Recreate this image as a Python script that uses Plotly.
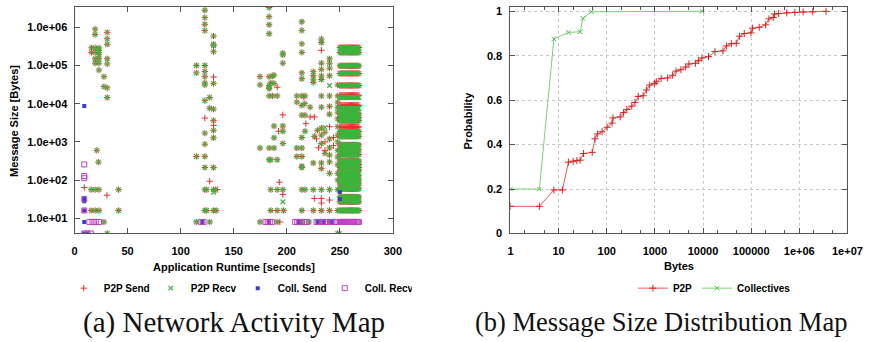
import plotly.graph_objects as go

W, H = 883, 342

# ---------------- Left chart data: (time [s], size [bytes]) ----------------
# points where both a P2P send and a P2P recv are recorded
p2p_both_t = [19.4, 19.4, 30.8, 30.8, 30.8, 16, 19.4, 23, 16, 19.4, 23, 23, 23, 19.4, 23, 19.4, 23, 30.8, 30.8,
              23, 27.7, 27.7, 30.8, 30.8, 21, 22.5, 15.7, 19.4, 23, 41.5, 15.7, 19.4, 23, 41.5, 27.7, 30.8,
              122.8, 122.8, 122.8, 122.8, 131, 131, 131, 131, 114.8, 122.8, 114.8, 122.8, 122.8, 122.8, 122.8, 131,
              122.8, 127.4, 127.4, 131, 131, 131, 122.8, 131, 122.8, 114.8, 122.8, 122.8, 131,
              122.8, 124.5, 131, 133, 122.8, 124.5, 131, 133.5, 114.8, 127.4,
              183.4, 183.4, 183.4, 183.4, 196.3, 196.3, 196.3, 174.8, 183.4, 186.5, 188, 174.8, 183.4, 183.4, 185, 188,
              183.4, 183.4, 186.5, 191, 188, 196.3, 196.3, 188, 196.3, 174.8, 183.4, 188, 183.4, 185, 191,
              184.9, 191, 196.3, 184.9, 191, 197, 174.8, 191,
              214.2, 214.2, 214.2, 214.2, 214.2, 214.2, 232.6, 232.6, 232.6, 232.6, 232.6, 232.6,
              225, 225, 225, 225, 240.3, 240.3, 240.3, 240.3, 248,
              209.5, 214.2, 217.2, 209.5, 214.2, 217, 214.2, 217.2, 222, 232.6, 232.6, 240.3, 240.3, 240.3,
              248, 248, 248, 248, 248, 248, 248, 248, 248, 248, 248, 248, 248,
              217.2, 214.2, 209.5, 214.2, 209.5, 214.2, 214.2,
              226, 229, 232.6, 232.6, 232.6, 236, 240.3, 240.3, 240.3, 236,
              214.2, 225, 232.6, 232.6, 240.3, 240.3,
              214.2, 217.2, 225, 232.6, 240.3, 248, 214.2, 225, 232.6, 240.3, 248,
              214.2, 221, 232, 240, 248, 249.5]
p2p_both_s = [9.0e5, 6.5e5, 7.4e5, 5.0e5, 3.6e5, 2.9e5, 2.9e5, 2.9e5, 2.2e5, 2.2e5, 2.2e5, 2.5e5, 1.9e5, 1.5e5, 1.5e5, 1.15e5, 1.15e5, 1.5e5, 1.1e5,
              7.6e4, 5.1e4, 2.8e4, 2.6e4, 1.45e4, 600, 295, 56, 56, 56, 56, 16, 16, 16, 16, 8, 4,
              2.8e6, 1.8e6, 1.2e6, 8.2e5, 5.9e5, 3.6e5, 3.3e5, 2.3e5, 1.0e5, 1.0e5, 6.4e4, 7.0e4, 5.1e4, 3.5e4, 3.1e4, 3.4e4,
              1.2e4, 1.45e4, 7.6e3, 7.2e3, 3.6e3, 2.0e3, 1.7e3, 1.28e3, 870, 415, 415, 213, 213,
              56, 56, 56, 56, 16, 16, 16, 16, 8, 8,
              3.3e6, 1.9e6, 1.17e6, 6.8e5, 2.1e5, 1.9e5, 1.15e5, 5.1e4, 5.1e4, 5.3e4, 5.6e4, 3.1e4, 2.5e4, 3.0e4, 3.5e4, 3.4e4,
              2.7e4, 1.6e4, 1.6e4, 1.6e4, 2.6e3, 2.6e3, 1.9e3, 1.28e3, 910, 690, 690, 690, 340, 340, 340,
              56, 56, 56, 16, 16, 16, 8, 8,
              1.4e6, 8.3e5, 3.7e5, 2.2e5, 6.4e4, 4.5e4, 4.9e5, 4.0e5, 1.15e5, 7.9e4, 5.3e4, 4.3e4,
              6.9e4, 5.5e4, 4.4e4, 3.6e4, 1.5e5, 1.15e5, 8.5e4, 5.4e4, 3.1e4,
              1.6e4, 1.6e4, 1.6e4, 1.1e4, 9.0e3, 1.0e4, 5.0e3, 5.0e3, 8.1e3, 8.1e3, 1.6e4, 1.6e4, 8.5e3, 5.3e3,
              1.6e4, 1.1e4, 8.0e3, 6.0e3, 4.0e3, 2.5e3, 1.5e3, 1.0e3, 600, 400, 250, 150, 100,
              1.9e3, 1.3e3, 690, 690, 415, 415, 213,
              1.4e3, 2.0e3, 2.3e3, 900, 1.5e3, 1.8e3, 1.2e3, 700, 450, 500,
              230, 280, 280, 200, 300, 150,
              56, 56, 56, 56, 56, 56, 16, 16, 16, 16, 16,
              8, 8, 8, 8, 4, 4]
# send-only points
p2p_send_t = [9.2, 30.5, 131, 122.8, 131, 127.4, 134.5, 191, 196.3, 192.3, 193, 196.3, 193.5,
              232.6, 216, 222, 226, 218, 228, 230, 236, 244, 240.3, 226, 232.6, 232.6, 240.3, 244, 236]
p2p_send_s = [64, 40, 5.0e4, 4.2e3, 2.7e3, 93, 56, 2.7e4, 5.1e3, 1.9e3, 88, 42, 8,
              2.5e5, 1.5e4, 4.5e3, 4.5e3, 3.0e3, 1.2e3, 700, 600, 800, 2.5e3, 33, 33, 25, 30, 1.3e3, 1.0e3]
# recv-only points
p2p_recv_t = [131, 196.3, 240.3, 236]
p2p_recv_s = [48, 27, 3.0e4, 2.4e3]

# dense activity block at the end of the run
block_t = [250, 251, 252, 253, 254, 255, 256, 257, 258, 259, 260, 261, 262, 263, 264, 265, 266, 267, 268]
block_both_s = [2.95e5, 2.2e5, 9.8e4, 6.2e4, 3.0e4, 5.4e3, 4.4e3, 3.6e3, 1.85e3, 1.4e3, 830, 620, 465,
                315, 256, 212, 175, 129, 100, 79, 59, 36, 27, 16]
block_send_s = [1.66e4, 9.1e3, 2.45e3]
block_recv_s = [1.45e4, 7.5e3]

# collectives
coll_send_t = [9.2, 9.2, 9.2, 9.2, 9.2, 9.2, 12.3, 120.5, 183, 211, 229, 235, 243, 250, 250, 250, 252]
coll_send_s = [8.7e3, 32, 28, 16, 8, 4, 4, 8, 8, 8, 8, 8, 8, 49, 32, 8, 8]
coll_recv_t = [9.2, 9.2, 9.2, 9.2, 12.3, 15.4, 14, 17, 20, 23, 9.2, 9.2, 119.5, 121.5, 180, 182, 184, 186,
               208, 210, 212, 216, 219, 228, 230, 234, 236, 238, 242, 244, 246]
coll_recv_s = [256, 128, 112, 4, 4, 4, 8, 8, 8, 8, 16, 32, 8, 8, 8, 8, 8, 8,
               8, 8, 8, 8, 8, 8, 8, 8, 8, 8, 8, 8, 8]

# ---------------- Right chart data: CDF ----------------
p2p_cdf_x = [1, 4, 8, 12, 16, 20, 24, 28, 33, 50, 57, 64, 80, 102, 129, 135, 191, 224, 261, 331, 386, 451, 570, 668,
             780, 980, 1070, 1350, 1840, 2340, 2750, 3470, 4370, 5100, 6950, 8130, 9500, 13000, 17700, 26000,
             30700, 38800, 49000, 57400, 72000, 99000, 107000, 147000, 200000, 234000, 288000, 305000, 373000,
             550000, 810000, 1.2e6, 1.9e6, 3.6e6]
p2p_cdf_y = [0.122, 0.122, 0.196, 0.196, 0.321, 0.325, 0.328, 0.33, 0.36, 0.365, 0.426, 0.448, 0.458, 0.478, 0.497,
             0.52, 0.525, 0.544, 0.558, 0.573, 0.59, 0.617, 0.62, 0.646, 0.668, 0.675, 0.683, 0.698, 0.7, 0.712,
             0.731, 0.737, 0.749, 0.763, 0.766, 0.778, 0.79, 0.796, 0.819, 0.822, 0.844, 0.854, 0.856, 0.888,
             0.9, 0.903, 0.924, 0.928, 0.939, 0.966, 0.972, 0.988, 0.99, 0.993, 0.995, 0.997, 0.998, 1.0]
coll_cdf_x = [1, 4, 8, 16, 28, 32, 48, 9500]
coll_cdf_y = [0.2, 0.2, 0.876, 0.905, 0.908, 0.968, 0.998, 1.0]

# tick labels
left_y_tickvals = [10, 100, 1000, 10000, 100000, 1000000]
left_y_ticktext = ["1.0e+01", "1.0e+02", "1.0e+03", "1.0e+04", "1.0e+05", "1.0e+06"]
left_x_tickvals = [0, 50, 100, 150, 200, 250, 300]
right_x_tickvals = [1, 10, 100, 1000, 10000, 100000, 1000000, 10000000]
right_x_ticktext = ["1", "10", "100", "1000", "10000", "100000", "1e+06", "1e+07"]
right_y_tickvals = [0, 0.2, 0.4, 0.6, 0.8, 1]
right_y_ticktext = ["0", "0.2", "0.4", "0.6", "0.8", "1"]

# ---------------- assemble series ----------------
send_t = p2p_both_t + p2p_send_t
send_s = p2p_both_s + p2p_send_s
recv_t = p2p_both_t + p2p_recv_t
recv_s = p2p_both_s + p2p_recv_s
for s in block_both_s:
    send_t += block_t
    send_s += [s] * len(block_t)
    recv_t += block_t
    recv_s += [s] * len(block_t)
for s in block_send_s:
    send_t += block_t
    send_s += [s] * len(block_t)
for s in block_recv_s:
    recv_t += block_t
    recv_s += [s] * len(block_t)
coll_recv_t2 = coll_recv_t + block_t
coll_recv_s2 = coll_recv_s + [8] * len(block_t)

RED = "#ee2c2c"
GREEN = "#3cb43c"
BLUE = "#3a3ad6"
PURPLE = "#c040c0"
FONT = "Liberation Sans"

fig = go.Figure()
fig.add_trace(go.Scatter(x=send_t, y=send_s, mode="markers", name="P2P Send",
                         marker=dict(symbol="cross-thin", size=4.5, line=dict(color=RED, width=1), color=RED),
                         xaxis="x", yaxis="y", legend="legend"))
fig.add_trace(go.Scatter(x=recv_t, y=recv_s, mode="markers", name="P2P Recv",
                         marker=dict(symbol="x-thin", size=4.5, line=dict(color=GREEN, width=1.2), color=GREEN),
                         xaxis="x", yaxis="y", legend="legend"))
fig.add_trace(go.Scatter(x=coll_send_t, y=coll_send_s, mode="markers", name="Coll. Send",
                         marker=dict(symbol="square", size=4, color=BLUE, line=dict(width=0)),
                         xaxis="x", yaxis="y", legend="legend"))
fig.add_trace(go.Scatter(x=coll_recv_t2, y=coll_recv_s2, mode="markers", name="Coll. Recv",
                         marker=dict(symbol="square-open", size=5, color=PURPLE, line=dict(color=PURPLE, width=1)),
                         xaxis="x", yaxis="y", legend="legend"))

fig.add_trace(go.Scatter(x=p2p_cdf_x, y=p2p_cdf_y, mode="lines+markers", name="P2P",
                         line=dict(color="#f05858", width=1),
                         marker=dict(symbol="cross-thin", size=5, line=dict(color="#e02020", width=1)),
                         xaxis="x2", yaxis="y2", legend="legend2"))
fig.add_trace(go.Scatter(x=coll_cdf_x, y=coll_cdf_y, mode="lines+markers", name="Collectives",
                         line=dict(color="#78d478", width=1),
                         marker=dict(symbol="x-thin", size=4.5, line=dict(color="#50c050", width=1)),
                         xaxis="x2", yaxis="y2", legend="legend2"))


def px(x):
    return x / W


def py(y):
    return 1 - y / H


tickfont = dict(family=FONT, size=11, color="#000", weight="bold")
AXCOL = "#555555"
common = dict(showline=True, linecolor=AXCOL, linewidth=1, mirror="allticks", ticks="inside",
              tickcolor=AXCOL, tickfont=tickfont, zeroline=False)

fig.update_layout(
    width=W, height=H, margin=dict(l=0, r=0, t=0, b=0),
    paper_bgcolor="white", plot_bgcolor="white",
    font=dict(family=FONT, size=11, color="#000"),
    xaxis=dict(domain=[px(73), px(398)], range=[0, 300], tickvals=left_x_tickvals, ticklen=5,
               showgrid=False, anchor="y", ticklabelstandoff=7, **common),
    yaxis=dict(domain=[py(237), py(5)], type="log", range=[0.602, 6.535], tickvals=left_y_tickvals,
               ticktext=left_y_ticktext, ticklen=5, showgrid=False, anchor="x", ticklabelstandoff=4, **common),
    xaxis2=dict(domain=[px(518), px(862)], type="log", range=[0, 7], tickvals=right_x_tickvals,
                ticktext=right_x_ticktext, ticklen=5, showgrid=True, gridcolor="#c8c8c8", griddash="dot",
                gridwidth=1, anchor="y2", ticklabelstandoff=7,
                minor=dict(ticks="inside", ticklen=3, tickcolor=AXCOL, showgrid=False), **common),
    yaxis2=dict(domain=[py(237), py(5)], range=[0, 1.02], tickvals=right_y_tickvals, ticktext=right_y_ticktext,
                ticklen=5, showgrid=True, gridcolor="#c8c8c8", griddash="dot", gridwidth=1, anchor="x2",
                ticklabelstandoff=5, **common),
    legend=dict(orientation="h", x=px(62), y=py(293), xanchor="left", yanchor="middle",
                font=dict(family=FONT, size=10, color="#000", weight="bold"),
                entrywidth=42, entrywidthmode="pixels", itemwidth=30, bgcolor="rgba(0,0,0,0)"),
    legend2=dict(orientation="h", x=px(643), y=py(293), xanchor="left", yanchor="middle",
                 font=dict(family=FONT, size=10, color="#000", weight="bold"),
                 itemwidth=30, bgcolor="rgba(0,0,0,0)"),
    showlegend=True,
)

ann_font = dict(family=FONT, size=11, color="#000", weight="bold")
annotations = [
    dict(text="Message Size [Bytes]", x=px(11), y=py(122), textangle=-90, font=ann_font),
    dict(text="Application Runtime [seconds]", x=px(236), y=py(271), font=ann_font),
    dict(text="Probability", x=px(475), y=py(121), textangle=-90, font=ann_font),
    dict(text="Bytes", x=px(690), y=py(270), font=ann_font),
    dict(text="(a) Network Activity Map", x=px(236), y=py(328),
         font=dict(family="Liberation Serif", size=29, color="#111")),
    dict(text="(b) Message Size Distribution Map", x=px(672), y=py(328),
         font=dict(family="Liberation Serif", size=26.5, color="#111")),
]
for a in annotations:
    a.update(xref="paper", yref="paper", showarrow=False, xanchor="center", yanchor="middle")
fig.update_layout(annotations=annotations)

fig.write_html("out.html")
